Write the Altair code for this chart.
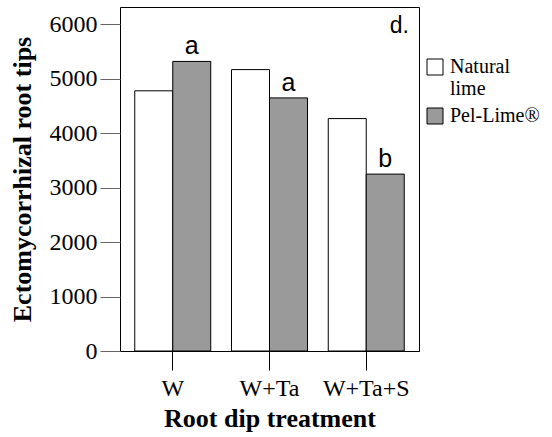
import altair as alt
import pandas as pd

categories = ["W", "W+Ta", "W+Ta+S"]
series = ["Natural lime", "Pel-Lime®"]
natural_lime = [4780, 5170, 4270]
pel_lime = [5320, 4650, 3250]
letters = ["a", "a", "b"]
y_ticks = [0, 1000, 2000, 3000, 4000, 5000, 6000]

rows = []
for c, n, p, l in zip(categories, natural_lime, pel_lime, letters):
    rows.append({"treatment": c, "type": series[0], "value": n, "letter": ""})
    rows.append({"treatment": c, "type": series[1], "value": p, "letter": l})
df = pd.DataFrame(rows)

W, H = 299, 344
SERIF = "Liberation Serif"
SANS = "Liberation Sans"

x = alt.X(
    "treatment:N",
    sort=categories,
    scale=alt.Scale(paddingInner=0.2145, paddingOuter=0.1525),
    axis=alt.Axis(
        title="Root dip treatment",
        labelAngle=0,
        tickSize=19,
        tickColor="black",
        domainColor="black",
        labelPadding=6,
        labelFont=SERIF,
        labelFontSize=24,
        labelColor="black",
        titleFont=SERIF,
        titleFontSize=26,
        titleFontWeight="bold",
        titleColor="black",
        titleBaseline="alphabetic",
        titleY=75,
    ),
)
xo = alt.XOffset("type:N", sort=series, scale=alt.Scale(domain=series))
y = alt.Y(
    "value:Q",
    scale=alt.Scale(domain=[0, 6320], nice=False),
    axis=alt.Axis(
        title="Ectomycorrhizal root tips",
        values=y_ticks,
        format="d",
        grid=False,
        domain=False,
        tickSize=20,
        tickColor="#666666",
        labelPadding=3,
        labelFont=SERIF,
        labelFontSize=24,
        labelColor="black",
        titleFont=SERIF,
        titleFontSize=26,
        titleFontWeight="bold",
        titleColor="black",
        titleX=-98,
        titleY=H / 2,
        titleBaseline="middle",
        titleAlign="center",
    ),
)

bars = alt.Chart(df).mark_bar(stroke="black", strokeWidth=1).encode(
    x=x,
    xOffset=xo,
    y=y,
    fill=alt.Fill(
        "type:N",
        scale=alt.Scale(domain=series, range=["white", "#9a9a9a"]),
        legend=alt.Legend(
            title=None,
            orient="none",
            legendX=305,
            legendY=50,
            symbolType="square",
            symbolSize=256,
            symbolStrokeColor="black",
            symbolStrokeWidth=1,
            labelFont=SERIF,
            labelFontSize=20,
            labelColor="black",
            labelOffset=5,
            rowPadding=7,
            padding=0,
            labelExpr="datum.label == 'Natural lime' ? ['Natural', 'lime'] : datum.label",
        ),
    ),
)

text = alt.Chart(df).transform_filter("datum.letter != ''").mark_text(
    font=SANS, fontSize=25, dy=-7, baseline="alphabetic", color="black"
).encode(x=x, xOffset=xo, y=y, text="letter:N")

panel = alt.Chart(pd.DataFrame({"t": ["d."]})).mark_text(
    font=SANS, fontSize=23, align="right", baseline="alphabetic", color="black"
).encode(x=alt.value(W - 10), y=alt.value(26), text="t:N")

chart = alt.layer(bars, text, panel).properties(
    width=W,
    height=H,
    padding={"left": 120, "top": 7, "right": 133, "bottom": 86},
    autosize=alt.AutoSizeParams(type="none"),
).configure_view(stroke="black", strokeWidth=1)

chart.save("out.html", embed_options={"renderer": "svg", "actions": False})
